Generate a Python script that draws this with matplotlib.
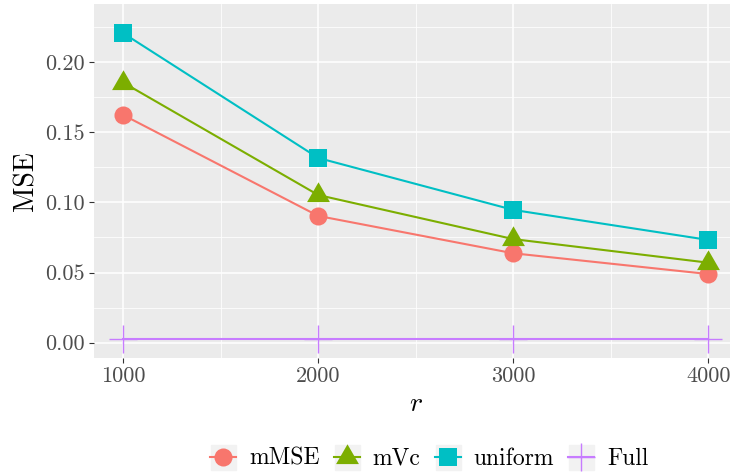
import matplotlib
matplotlib.use("Agg")
import matplotlib.pyplot as plt
from matplotlib.lines import Line2D
from matplotlib.legend_handler import HandlerTuple

# subsample sizes and MSE for each method
r_vals = [1000, 2000, 3000, 4000]
mse_mmse = [0.1622, 0.0903, 0.0637, 0.0489]
mse_mvc = [0.1853, 0.1052, 0.0738, 0.0570]
mse_uniform = [0.2205, 0.1316, 0.0946, 0.0732]
mse_full = [0.0026, 0.0026, 0.0026, 0.0026]

labels = ["mMSE", "mVc", "uniform", "Full"]
colors = ["#F8766D", "#7CAE00", "#00BFC4", "#C77CFF"]

y_ticks = [0.00, 0.05, 0.10, 0.15, 0.20]
y_minor = [0.025, 0.075, 0.125, 0.175, 0.225]
x_minor = [1500, 2500, 3500]

plt.rcParams['font.family'] = ['cmr10', 'DejaVu Serif']
plt.rcParams['mathtext.fontset'] = 'cm'
plt.rcParams['axes.formatter.use_mathtext'] = True

fig = plt.figure(figsize=(7.3, 4.75), dpi=100)
ax = fig.add_axes([94 / 730, 117.3 / 475, 643.5 / 730, 353.7 / 475])
ax.set_facecolor("#EBEBEB")
for s in ax.spines.values():
	s.set_visible(False)

# triangle centred on its centroid, like R's pch 17
tri = [(0, 1), (-0.866, -0.5), (0.866, -0.5), (0, 1)]

l1, = ax.plot(r_vals, mse_mmse, color=colors[0], lw=1.5, marker='o', ms=13, mew=0)
l2, = ax.plot(r_vals, mse_mvc, color=colors[1], lw=1.5, marker=tri, ms=19, mew=0)
l3, = ax.plot(r_vals, mse_uniform, color=colors[2], lw=1.5, marker='s', ms=13, mew=0)
l4, = ax.plot(r_vals, mse_full, color=colors[3], lw=1.5, marker='+', ms=20, mew=1.0)

ax.set_xlim(850, 4150)
ax.set_ylim(-0.0107, 0.2413)
ax.set_xticks(r_vals)
ax.set_xticklabels([str(v) for v in r_vals])
ax.set_yticks(y_ticks)
ax.set_yticklabels(["%.2f" % v for v in y_ticks])
ax.set_xticks(x_minor, minor=True)
ax.set_yticks(y_minor, minor=True)

ax.grid(which='major', color='white', lw=1.1)
ax.grid(which='minor', color='white', lw=0.55)
ax.set_axisbelow(True)
ax.tick_params(which='major', length=3.6, width=0.8, color='#333333',
			   labelcolor='#4D4D4D', labelsize=16, pad=3)
ax.tick_params(which='minor', length=0)

ax.set_xlabel("$r$", fontsize=20, labelpad=3)
ax.set_ylabel("MSE", fontsize=20, labelpad=4)

# legend keys sit on a light grey square
bg = lambda: Line2D([], [], marker='s', ms=18, color='#F2F2F2', ls='')
handles = [(bg(), h) for h in (l1, l2, l3, l4)]
fig.legend(handles, labels, loc='center', bbox_to_anchor=(0.588, 0.034), ncol=4,
		   frameon=False, fontsize=17, handlelength=1.1, handletextpad=0.55,
		   columnspacing=0.6, handler_map={tuple: HandlerTuple(ndivide=1)})

fig.savefig("out.png", dpi=100)
